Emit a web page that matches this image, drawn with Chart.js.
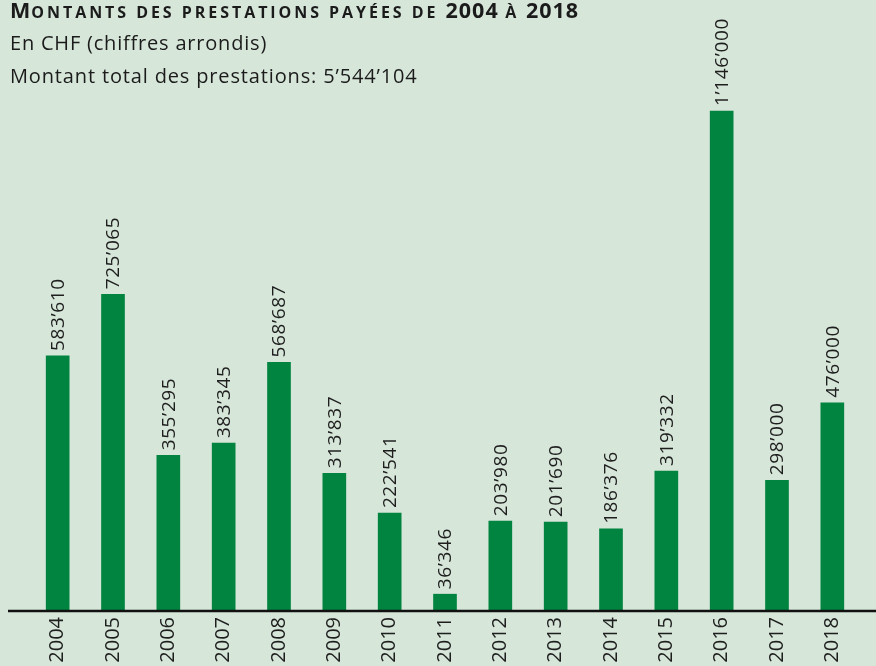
<!DOCTYPE html>
<html>
<head>
<meta charset="utf-8">
<script src="https://cdn.jsdelivr.net/npm/chart.js@4"></script>
<style>
  html, body { margin: 0; padding: 0; background: #d6e6d9; }
  #wrap { position: relative; width: 876px; height: 666px; overflow: hidden; background: #d6e6d9; }
  #c { position: absolute; left: 0; top: 0; }
  .t { position: absolute; left: 10px; color: #1b1b1b; font-family: "Open Sans", "Noto Sans", sans-serif; white-space: nowrap; }
  #title { top: -1px; font-size: 21.5px; font-weight: 700; line-height: 22px; letter-spacing: 1px; }
  #title .sc { font-size: 16px; text-transform: uppercase; letter-spacing: 2.95px; }
  #sub1 { top: 30px; font-size: 20px; line-height: 26px; letter-spacing: 0.8px; }
  #sub2 { top: 63px; font-size: 20px; line-height: 26px; letter-spacing: 0.85px; }
</style>
</head>
<body>
<div id="wrap">
  <canvas id="c" width="876" height="666"></canvas>
  <div class="t" id="title">M<span class="sc">ontants des prestations payées de </span>2004 <span class="sc">à</span> 2018</div>
  <div class="t" id="sub1">En CHF (chiffres arrondis)</div>
  <div class="t" id="sub2">Montant total des prestations: 5’544’104</div>
</div>
<script>
const years = ["2004","2005","2006","2007","2008","2009","2010","2011","2012","2013","2014","2015","2016","2017","2018"];
const amounts = [583610, 725065, 355295, 383345, 568687, 313837, 222541, 36346, 203980, 201690, 186376, 319332, 1146000, 298000, 476000];

function fmt(v) {
  return String(v).replace(/\B(?=(\d{3})+(?!\d))/g, "’");
}

const valueLabels = {
  id: 'valueLabels',
  afterDatasetsDraw(chart) {
    const ctx = chart.ctx;
    const meta = chart.getDatasetMeta(0);
    ctx.save();
    ctx.fillStyle = '#1e1e1e';
    ctx.font = '19px "Open Sans", "Noto Sans", sans-serif';
    if ('letterSpacing' in ctx) ctx.letterSpacing = '0.6px';
    ctx.textAlign = 'left';
    ctx.textBaseline = 'middle';
    meta.data.forEach((bar, i) => {
      ctx.save();
      ctx.translate(bar.x + 1, bar.y - 5);
      ctx.rotate(-Math.PI / 2);
      ctx.fillText(fmt(amounts[i]), 0, 0);
      ctx.restore();
    });
    ctx.restore();
  }
};

const baseline = {
  id: 'baseline',
  afterDatasetsDraw(chart) {
    const ctx = chart.ctx;
    const y = chart.scales.y.getPixelForValue(0);
    ctx.save();
    ctx.strokeStyle = '#111';
    ctx.lineWidth = 2.5;
    ctx.beginPath();
    ctx.moveTo(8, y + 1);
    ctx.lineTo(chart.width, y + 1);
    ctx.stroke();
    ctx.restore();
  }
};

new Chart(document.getElementById('c'), {
  type: 'bar',
  data: {
    labels: years,
    datasets: [{
      data: amounts,
      backgroundColor: '#00843f',
      borderWidth: 0,
      barThickness: 23
    }]
  },
  options: {
    responsive: false,
    animation: false,
    layout: { padding: { left: 30, right: 16, top: 0, bottom: 0 } },
    plugins: { legend: { display: false }, tooltip: { enabled: false } },
    scales: {
      x: {
        grid: { display: false, drawTicks: false },
        border: { display: false },
        ticks: {
          color: '#1e1e1e',
          font: { family: '"Open Sans", "Noto Sans", sans-serif', size: 20 },
          minRotation: 90,
          maxRotation: 90,
          padding: 7
        },
        afterFit(scale) { scale.height = 56; }
      },
      y: {
        display: false,
        min: 0,
        max: 1401000
      }
    }
  },
  plugins: [valueLabels, baseline]
});
</script>
</body>
</html>
